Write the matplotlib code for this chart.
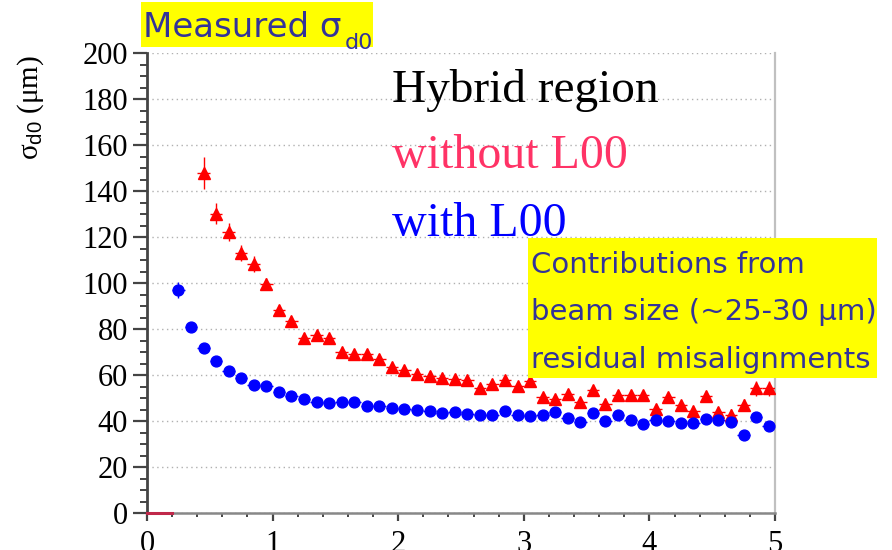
import matplotlib
matplotlib.use("Agg")
import matplotlib.pyplot as plt
from matplotlib.patches import Rectangle

plt.rcParams['font.family'] = ['Liberation Serif', 'DejaVu Serif']
plt.rcParams['mathtext.fontset'] = 'custom'
plt.rcParams['mathtext.rm'] = 'Liberation Serif'
plt.rcParams['mathtext.sf'] = 'Liberation Sans'
plt.rcParams['mathtext.it'] = 'Liberation Serif:italic'

# d0 resolution vs track pT, hybrid region
x_with = [0.25, 0.35, 0.45, 0.55, 0.65, 0.75, 0.85, 0.95, 1.05, 1.15,
          1.25, 1.35, 1.45, 1.55, 1.65, 1.75, 1.85, 1.95, 2.05, 2.15,
          2.25, 2.35, 2.45, 2.55, 2.65, 2.75, 2.85, 2.95, 3.05, 3.15,
          3.25, 3.35, 3.45, 3.55, 3.65, 3.75, 3.85, 3.95, 4.05, 4.15,
          4.25, 4.35, 4.45, 4.55, 4.65, 4.75, 4.85, 4.95]
sigma_with = [97.0, 80.7, 71.6, 65.9, 61.7, 58.7, 55.8, 55.4, 52.8, 51.0,
              49.4, 48.3, 48.0, 48.3, 48.1, 46.5, 46.5, 45.7, 45.4, 44.9,
              44.5, 43.5, 43.8, 43.0, 42.8, 42.8, 44.5, 42.5, 42.0, 42.6,
              43.8, 41.3, 39.6, 43.3, 40.1, 42.6, 40.3, 38.7, 40.6, 40.1,
              39.1, 39.3, 40.7, 40.6, 39.6, 33.9, 41.6, 37.7]
err_with = [3.6, 1.5, 1.2, 1.0, 1.0, 1.0, 1.0, 1.0, 1.0, 1.0,
            1.0, 1.0, 1.0, 1.0, 1.0, 1.0, 1.0, 1.0, 1.0, 1.0,
            1.0, 1.0, 1.0, 1.0, 1.0, 1.0, 1.0, 1.0, 1.0, 1.0,
            1.0, 1.0, 1.0, 1.0, 1.0, 1.0, 1.0, 1.0, 1.0, 1.0,
            1.0, 1.0, 1.2, 1.2, 1.2, 1.5, 1.5, 1.5]

x_without = [0.45, 0.55, 0.65, 0.75, 0.85, 0.95, 1.05, 1.15,
             1.25, 1.35, 1.45, 1.55, 1.65, 1.75, 1.85, 1.95, 2.05, 2.15,
             2.25, 2.35, 2.45, 2.55, 2.65, 2.75, 2.85, 2.95, 3.05, 3.15,
             3.25, 3.35, 3.45, 3.55, 3.65, 3.75, 3.85, 3.95, 4.05, 4.15,
             4.25, 4.35, 4.45, 4.55, 4.65, 4.75, 4.85, 4.95]
sigma_without = [147.8, 130.1, 122.2, 113.0, 108.3, 99.7, 88.4, 83.6,
                 76.1, 77.5, 76.0, 70.0, 69.3, 69.3, 67.0, 63.5, 62.3, 60.6,
                 59.7, 58.7, 58.3, 57.8, 54.3, 56.1, 58.0, 55.1, 57.2, 50.3,
                 49.4, 51.9, 48.1, 53.6, 47.5, 51.4, 51.4, 51.2, 45.2, 50.3,
                 46.8, 44.2, 51.0, 43.9, 42.8, 46.8, 54.3, 54.3]
err_without = [7.0, 4.6, 4.0, 3.6, 3.3, 2.5, 2.2, 2.0,
               2.0, 2.0, 2.0, 2.0, 2.0, 2.0, 2.0, 2.0, 2.0, 2.0,
               2.0, 2.0, 2.0, 2.0, 2.0, 2.0, 2.0, 2.0, 2.0, 2.0,
               2.0, 2.0, 2.0, 2.0, 2.0, 2.0, 2.0, 2.0, 2.0, 2.0,
               2.2, 2.2, 2.2, 2.4, 2.4, 2.6, 3.3, 3.3]
bin_half = 0.05

# empty bins of the "without" histogram drawn along zero
empty_x = [0.0, 0.2]
empty_y = [0.0, 0.0]

W, H = 892, 550


def fx(px):
    return px / W


def fy(py):
    return 1 - py / H


fig = plt.figure(figsize=(W / 100, H / 100), dpi=100)
ax = fig.add_axes([fx(147), fy(513), (775 - 147) / W, (513 - 53) / H])

ax.yaxis.grid(True, linestyle=(0, (1, 2.5)), color='#b0b0b0', linewidth=1)
ax.set_axisbelow(True)

ax.plot(empty_x, empty_y, color='#c0284a', lw=2.2, clip_on=False, zorder=4)

ax.errorbar(x_without, sigma_without, yerr=err_without, xerr=bin_half,
            fmt='^', color='#ff0000', ms=8, elinewidth=1, capsize=0,
            zorder=3)
ax.errorbar(x_with, sigma_with, yerr=err_with, xerr=bin_half,
            fmt='o', color='#0000ff', ms=7.8, elinewidth=1, capsize=0,
            zorder=3)

ax.set_xlim(0, 5)
ax.set_ylim(0, 200)
ax.set_xticks([0, 1, 2, 3, 4, 5])
ax.set_xticks([i * 0.2 for i in range(26)], minor=True)
ax.set_yticks(range(0, 201, 20))
ax.set_yticks(range(0, 201, 5), minor=True)

ax.tick_params(axis='y', which='major', direction='out', length=10,
               width=1.6, color='#444444', labelsize=22, pad=3.5)
ax.tick_params(axis='y', which='minor', direction='out', length=5,
               width=1.4, color='#444444')
ax.tick_params(axis='x', which='major', direction='out', length=6,
               width=1.6, color='#444444', labelsize=22, pad=6)
ax.tick_params(axis='x', which='minor', direction='out', length=3,
               width=1.4, color='#444444')

ax.spines['top'].set_visible(False)
ax.spines['left'].set_color('#444444')
ax.spines['left'].set_linewidth(2)
ax.spines['bottom'].set_color('#888888')
ax.spines['bottom'].set_linewidth(1.8)
ax.spines['right'].set_color('#c0c0c0')
ax.spines['right'].set_linewidth(1.6)

fig.text(fx(31), fy(55), r'σ$_{\mathsf{d0}}$ (μm)', rotation=90,
         ha='center', va='top', fontsize=21)

# series labels
fig.text(fx(392), fy(101.7), 'Hybrid region', fontsize=34,
         color='black', va='baseline')
fig.text(fx(392), fy(168.3), 'without L00', fontsize=34.5,
         color='#ff3366', va='baseline')
fig.text(fx(392), fy(235.7), 'with L00', fontsize=34.5,
         color='#0000ff', va='baseline')

note_color = '#333399'
note_font = 'DejaVu Sans'

# title box
fig.patches.append(Rectangle((fx(140.7), fy(46.7)), (373.3 - 140.7) / W,
                             (46.7 - 1.7) / H, transform=fig.transFigure,
                             facecolor='#ffff00', edgecolor='none',
                             zorder=1))
fig.text(fx(143), fy(37), 'Measured σ', fontsize=24.5, color=note_color,
         family=note_font, va='baseline', zorder=5)
fig.text(fx(345), fy(49), 'd0', fontsize=16, color=note_color,
         family=note_font, va='baseline', zorder=5)

# contributions box
fig.patches.append(Rectangle((fx(528.3), fy(378.3)), (876.7 - 528.3) / W,
                             (378.3 - 238.3) / H, transform=fig.transFigure,
                             facecolor='#ffff00', edgecolor='none',
                             zorder=1))
note_lines = ['Contributions from', 'beam size (~25-30 μm)',
              'residual misalignments']
for line, base in zip(note_lines, [272.7, 320.2, 367.7]):
    fig.text(fx(531), fy(base), line, fontsize=21, color=note_color,
             family=note_font, va='baseline', zorder=5)

fig.savefig('out.png', dpi=100)
